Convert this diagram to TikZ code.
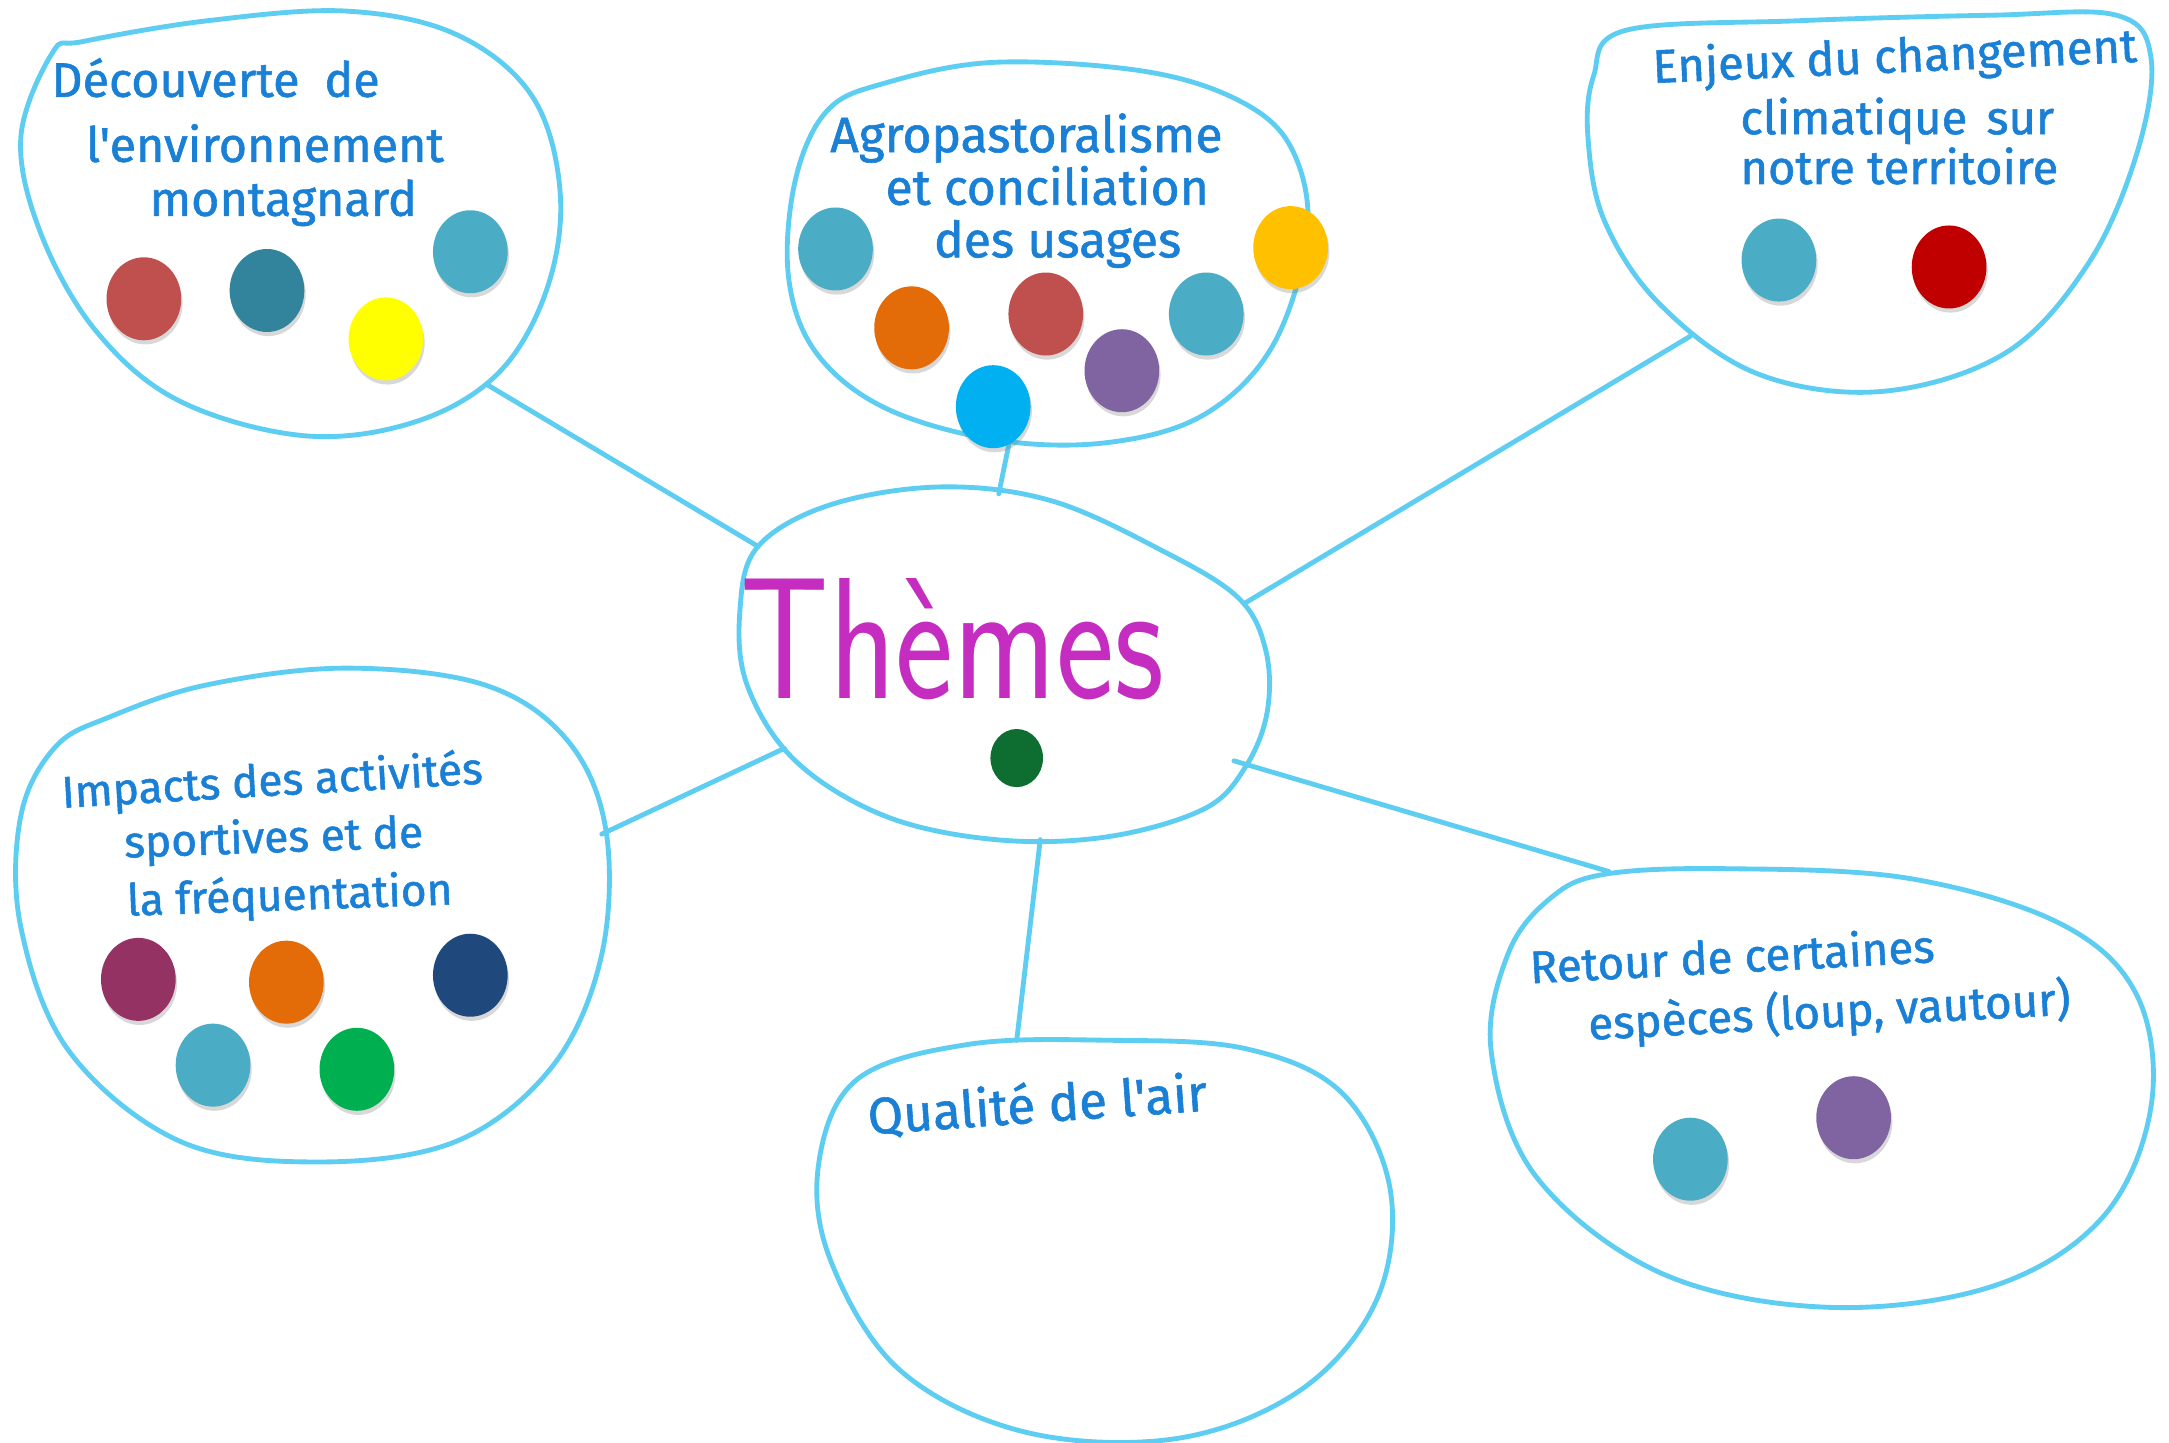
\documentclass[tikz,border=0pt]{standalone}
\usepackage{fontspec}
\setmainfont{Fira Sans}
\newfontfamily\inkfont{Fira Sans}[FakeBold=1.2]
\usetikzlibrary{shapes.geometric,shadows}
\definecolor{lineblue}{HTML}{5DCDF2}
\definecolor{inkblue}{HTML}{1A80D6}
\definecolor{themescol}{HTML}{C42DC0}
\definecolor{cTeal}{HTML}{4BACC6}
\definecolor{cDTeal}{HTML}{31849B}
\definecolor{cRed}{HTML}{C0504D}
\definecolor{cYellow}{HTML}{FFFF00}
\definecolor{cOrange}{HTML}{E36C09}
\definecolor{cSky}{HTML}{00B0F0}
\definecolor{cPurple}{HTML}{8064A2}
\definecolor{cAmber}{HTML}{FFC000}
\definecolor{cDRed}{HTML}{C00000}
\definecolor{cPlum}{HTML}{943264}
\definecolor{cNavy}{HTML}{1F497D}
\definecolor{cGreen}{HTML}{00B050}
\definecolor{cDGreen}{HTML}{0E6E32}
\begin{document}
\begin{tikzpicture}[x=1pt,y=-1pt,
  bubble/.style={draw=lineblue, line width=3.5pt, line join=round},
  link/.style={draw=lineblue, line width=3.5pt, line cap=round},
  dot/.style={ellipse, minimum width=54pt, minimum height=60pt, inner sep=0pt,
    drop shadow={shadow xshift=1pt, shadow yshift=-3pt, opacity=0.3}},
  smalldot/.style={ellipse, minimum width=38pt, minimum height=42pt, inner sep=0pt},
  ink/.style={text=inkblue, inner sep=0pt, anchor=base west}]
\useasboundingbox (0,0) rectangle (1568,1043);
\fill[white] (0,0) rectangle (1568,1043);

% bubbles
\draw[bubble] plot[smooth cycle, tension=0.6] coordinates {(38,38) (15,100) (30,170) (70,240) (130,290) (220,315) (300,305) (360,270) (395,210) (405,140) (385,70) (330,25) (250,8) (150,15) (60,30)};
\draw[bubble] plot[smooth cycle, tension=0.6] coordinates {(598,80) (575,130) (570,200) (590,255) (640,295) (720,318) (800,320) (870,300) (920,250) (945,170) (935,110) (900,75) (830,52) (720,45) (640,60)};
\draw[bubble] plot[smooth cycle, tension=0.6] coordinates {(1175,22) (1300,15) (1440,11) (1530,11) (1555,42) (1545,110) (1510,190) (1450,255) (1360,283) (1270,270) (1200,220) (1160,160) (1148,100) (1152,55)};
\draw[bubble] plot[smooth cycle, tension=0.6] coordinates {(548,395) (600,365) (680,352) (760,362) (840,398) (895,432) (915,470) (916,515) (900,555) (870,585) (800,605) (720,607) (640,590) (575,550) (540,495) (535,440)};
\draw[bubble] plot[smooth cycle, tension=0.6] coordinates {(80,518) (150,495) (250,483) (350,495) (410,535) (438,600) (435,690) (400,770) (330,825) (230,840) (130,825) (50,760) (15,670) (15,590) (40,540)};
\draw[bubble] plot[smooth cycle, tension=0.6] coordinates {(700,755) (800,752) (900,758) (970,790) (1005,860) (995,940) (940,1005) (850,1040) (740,1035) (650,990) (600,910) (592,840) (620,780)};
\draw[bubble] plot[smooth cycle, tension=0.6] coordinates {(1160,632) (1250,628) (1380,635) (1490,668) (1545,720) (1555,800) (1520,880) (1440,930) (1320,945) (1200,920) (1110,850) (1078,760) (1090,690) (1120,650)};

% connector end points on the bubbles
\coordinate (b1e) at (352,278);
\coordinate (c1) at (548,395);
\coordinate (b2e) at (730,318);
\coordinate (c2) at (722,357);
\coordinate (b3e) at (1222,243);
\coordinate (c3) at (900,436);
\coordinate (b4e) at (435,603);
\coordinate (c4) at (567,541);
\coordinate (b5e) at (735,752);
\coordinate (c5) at (752,607);
\coordinate (b6e) at (1163,630);
\coordinate (c6) at (892,550);
\draw[link] (b1e) -- (c1);
\draw[link] (b2e) -- (c2);
\draw[link] (b3e) -- (c3);
\draw[link] (b4e) -- (c4);
\draw[link] (b5e) -- (c5);
\draw[link] (b6e) -- (c6);

% texts
\begin{scope}[font=\inkfont\fontsize{35}{40}\selectfont]
\node[ink] (t1a) at (37,70) {Découverte\hspace{18pt}de};
\node[ink] (t1b) at (62,117) {l'environnement};
\node[ink] (t1c) at (108,156) {montagnard};
\end{scope}
\begin{scope}[font=\inkfont\fontsize{36}{40}\selectfont]
\node[ink] (t2a) at (600,110) {Agropastoralisme};
\node[ink] (t2b) at (640,148) {et conciliation};
\node[ink] (t2c) at (675,186) {des usages};
\end{scope}
\begin{scope}[font=\inkfont\fontsize{34}{38}\selectfont]
\node[ink, rotate=2.5] (t3a) at (1195,60) {Enjeux du changement};
\node[ink] (t3b) at (1258,97) {climatique\hspace{14pt}sur};
\node[ink] (t3c) at (1258,133) {notre territoire};
\end{scope}
\begin{scope}[font=\inkfont\fontsize{32}{36}\selectfont]
\node[ink, rotate=3.3] (t4a) at (45,584) {Impacts des activités};
\node[ink, rotate=2] (t4b) at (90,620) {sportives et de};
\node[ink, rotate=2] (t4c) at (92,662) {la fréquentation};
\end{scope}
\node[ink, rotate=4, font=\inkfont\fontsize{37}{40}\selectfont] (t5) at (628,820) {Qualité de l'air};
\node[text=inkblue, inner sep=0pt, align=left, anchor=north west, rotate=3,
  font=\inkfont\fontsize{33}{43}\selectfont] (t6) at (1105,685)
  {Retour de certaines\\\hspace*{40pt}espèces (loup, vautour)};
\node[text=themescol, inner sep=0pt, anchor=base west, font=\fontsize{125}{130}\sffamily] (themes) at (535,505) {\scalebox{0.8}[1]{Thèmes}};

% dots
\node[dot, fill=cRed] (d11) at (104,216) {};
\node[dot, fill=cDTeal] (d12) at (193,210) {};
\node[dot, fill=cYellow] (d13) at (279,245) {};
\node[dot, fill=cTeal] (d14) at (340,182) {};

\node[dot, fill=cTeal] (d21) at (604,180) {};
\node[dot, fill=cOrange] (d22) at (659,237) {};
\node[dot, fill=cRed] (d23) at (756,227) {};
\node[dot, fill=cSky] (d24) at (718,294) {};
\node[dot, fill=cPurple] (d25) at (811,268) {};
\node[dot, fill=cTeal] (d26) at (872,227) {};
\node[dot, fill=cAmber] (d27) at (933,179) {};

\node[dot, fill=cTeal] (d31) at (1286,188) {};
\node[dot, fill=cDRed] (d32) at (1409,193) {};

\node[smalldot, fill=cDGreen] (d0) at (735,548) {};

\node[dot, fill=cPlum] (d41) at (100,708) {};
\node[dot, fill=cOrange] (d42) at (207,710) {};
\node[dot, fill=cNavy] (d43) at (340,705) {};
\node[dot, fill=cTeal] (d44) at (154,770) {};
\node[dot, fill=cGreen] (d45) at (258,773) {};

\node[dot, fill=cTeal] (d61) at (1222,838) {};
\node[dot, fill=cPurple] (d62) at (1340,808) {};
\end{tikzpicture}
\end{document}
